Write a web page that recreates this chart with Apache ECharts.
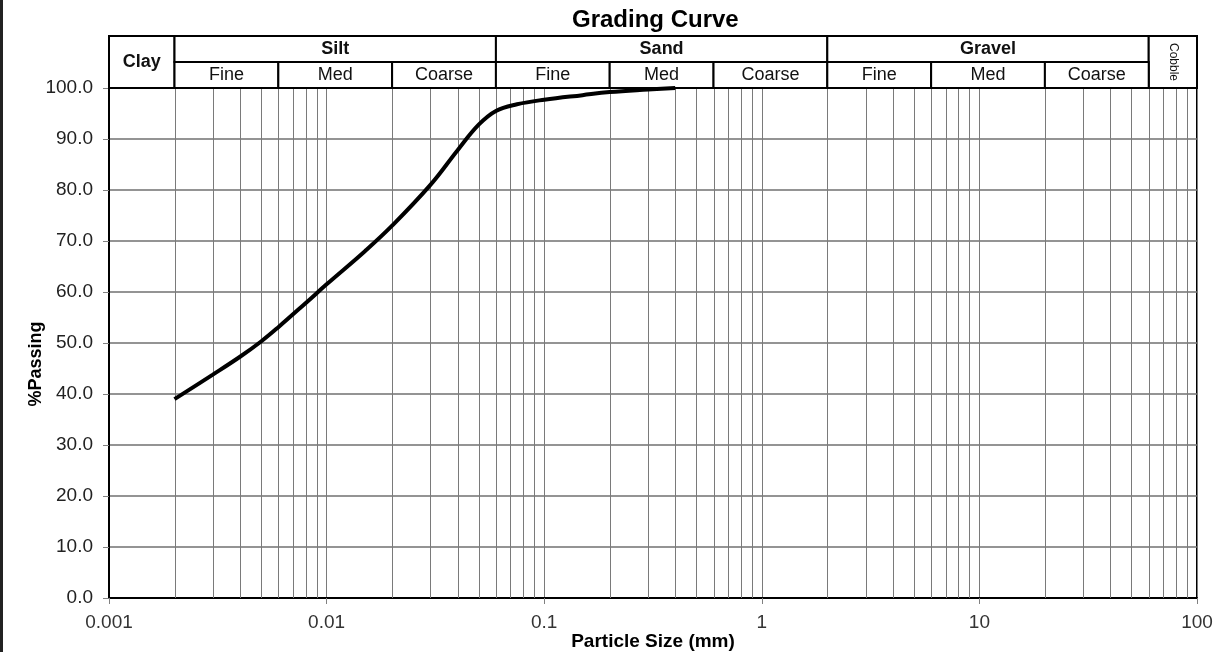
<!DOCTYPE html>
<html><head><meta charset="utf-8">
<script src="https://cdn.jsdelivr.net/npm/echarts@6/dist/echarts.min.js"></script>
<style>html,body{margin:0;padding:0;background:#fff}#c{width:1231px;height:652px}</style>
</head><body><div id="c"></div>
<script>
// ---- data ----
const particleSizes  = [0.002, 0.003, 0.004, 0.005, 0.006, 0.008, 0.01, 0.015, 0.02, 0.03, 0.04, 0.05, 0.06, 0.075, 0.1, 0.15, 0.2, 0.3, 0.4];
const percentPassing = [39.0, 43.8, 47.3, 50.3, 53.1, 57.8, 61.5, 68.0, 73.0, 81.0, 87.8, 92.8, 95.5, 96.8, 97.7, 98.6, 99.2, 99.7, 100.0];
const xTickLabels = ['0.001', '0.01', '0.1', '1', '10', '100'];
const yTickLabels = ['0.0', '10.0', '20.0', '30.0', '40.0', '50.0', '60.0', '70.0', '80.0', '90.0', '100.0'];
const decadeStarts = [0.001, 0.01, 0.1, 1, 10];
const minorMultipliers = [2, 3, 4, 5, 6, 7, 8, 9];
const mainClasses = ['Clay', 'Silt', 'Sand', 'Gravel', 'Cobble'];
const mainBounds  = [0.001, 0.002, 0.06, 2, 60, 100];
const subClasses  = ['Fine', 'Med', 'Coarse'];
const subBounds   = [0.002, 0.006, 0.02, 0.06, 0.2, 0.6, 2, 6, 20, 60];

// ---- derived ----
const FONT = '"Liberation Sans", Arial, sans-serif';
const curveData = particleSizes.map((s, i) => [s, percentPassing[i]]);
const minorValues = [];
decadeStarts.forEach(d => minorMultipliers.forEach(m => minorValues.push(+(d * m).toPrecision(3))));

const headerCells = [];
mainClasses.forEach((name, i) => {
  const full = (name === 'Clay' || name === 'Cobble');
  headerCells.push({x0: mainBounds[i], x1: mainBounds[i + 1], y0: full ? 0 : 1, y1: 2,
    label: name, bold: name !== 'Cobble', vertical: name === 'Cobble'});
});
for (let j = 0; j < subBounds.length - 1; j++) {
  headerCells.push({x0: subBounds[j], x1: subBounds[j + 1], y0: 0, y1: 1,
    label: subClasses[j % 3], bold: false, vertical: false});
}

const chart = echarts.init(document.getElementById('c'));
chart.setOption({
  animation: false,
  backgroundColor: '#fff',
  textStyle: {fontFamily: FONT},
  title: {
    text: 'Grading Curve', left: 572, top: 0, padding: [8, 0, 0, 0],
    textStyle: {fontSize: 24, fontWeight: 'bold', color: '#000', fontFamily: FONT}
  },
  graphic: [{type: 'line', shape: {x1: 1.5, y1: 0, x2: 1.5, y2: 652}, style: {stroke: '#222', lineWidth: 3}}],
  grid: [
    {left: 109, right: 34, top: 88, bottom: 54, show: true, borderColor: '#000', borderWidth: 2,
      backgroundColor: 'transparent', outerBoundsMode: 'none', containLabel: false},
    {left: 109, right: 34, top: 36, height: 52, outerBoundsMode: 'none', containLabel: false}
  ],
  xAxis: [
    {
      gridIndex: 0, type: 'log', logBase: 10, min: 0.001, max: 100,
      axisLine: {show: true, lineStyle: {color: '#000', width: 2}},
      axisTick: {show: true, length: 6, lineStyle: {color: '#808080'}},
      axisLabel: {fontSize: 19, color: '#333', margin: 15, showMinLabel: true, showMaxLabel: true,
        formatter: v => xTickLabels[Math.round(Math.log10(v)) + 3]},
      splitLine: {show: true, lineStyle: {color: '#7a7a7a', width: 1}},
      name: 'Particle Size (mm)', nameLocation: 'middle', nameGap: 34, nameMoveOverlap: false,
      nameTextStyle: {fontSize: 19, fontWeight: 'bold', color: '#000'}
    },
    {gridIndex: 1, type: 'log', logBase: 10, min: 0.001, max: 100, show: false}
  ],
  yAxis: [
    {
      gridIndex: 0, type: 'value', min: 0, max: 100, interval: 10,
      axisLine: {show: true, lineStyle: {color: '#000', width: 2}},
      axisTick: {show: true, length: 6, lineStyle: {color: '#808080'}},
      axisLabel: {fontSize: 19, color: '#222', margin: 16, formatter: v => yTickLabels[Math.round(v / 10)]},
      splitLine: {show: true, lineStyle: {color: '#707070', width: 1.5}},
      name: '%Passing', nameLocation: 'middle', nameGap: 64, nameMoveOverlap: false,
      nameTextStyle: {fontSize: 18, fontWeight: 'bold', color: '#000', padding: [0, 42, 0, 0]}
    },
    {gridIndex: 1, type: 'value', min: 0, max: 2, show: false}
  ],
  series: [
    {
      type: 'custom', xAxisIndex: 0, yAxisIndex: 0, z: 1, silent: true,
      data: minorValues.map(v => [v, 0]),
      encode: {x: 0, y: 1},
      renderItem: (params, api) => {
        const v = minorValues[params.dataIndex];
        const p0 = api.coord([v, 0]), p1 = api.coord([v, 100]);
        const x = Math.round(p0[0]) + 0.5;
        return {type: 'line', shape: {x1: x, y1: p0[1], x2: x, y2: p1[1]}, style: {stroke: '#7a7a7a', lineWidth: 1}};
      }
    },
    {
      type: 'line', xAxisIndex: 0, yAxisIndex: 0, z: 5, data: curveData,
      showSymbol: false, smooth: 0.4,
      lineStyle: {color: '#000', width: 4}
    },
    {
      type: 'custom', xAxisIndex: 1, yAxisIndex: 1, z: 3, silent: true,
      data: headerCells.map(c => [c.x0, c.y0, c.x1, c.y1]),
      encode: {x: [0, 2], y: [1, 3]},
      renderItem: (params, api) => {
        const c = headerCells[params.dataIndex];
        const p0 = api.coord([c.x0, c.y1]);
        const p1 = api.coord([c.x1, c.y0]);
        return {
          type: 'group', children: [
            {type: 'rect', shape: {x: p0[0], y: p0[1], width: p1[0] - p0[0], height: p1[1] - p0[1]},
              style: {fill: '#fff', stroke: '#000', lineWidth: 2}},
            {type: 'text', x: (p0[0] + p1[0]) / 2, y: (p0[1] + p1[1]) / 2,
              rotation: c.vertical ? -Math.PI / 2 : 0,
              style: {text: c.label, align: 'center', verticalAlign: 'middle', fill: '#111',
                font: (c.bold ? 'bold ' : '') + (c.vertical ? '12px ' : '18px ') + FONT}}
          ]
        };
      }
    }
  ]
});
</script></body></html>
